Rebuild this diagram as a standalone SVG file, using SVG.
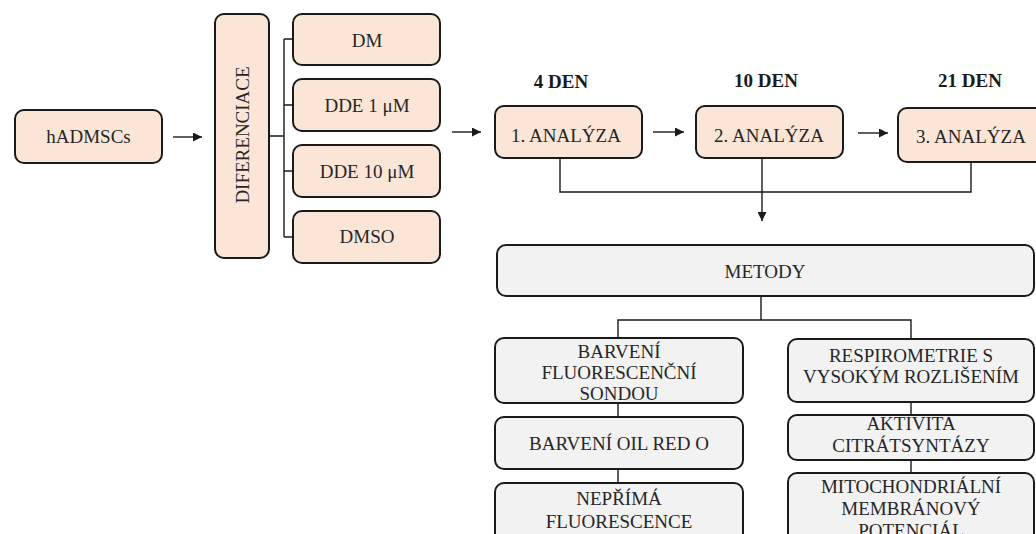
<svg xmlns="http://www.w3.org/2000/svg" width="1036" height="534" viewBox="0 0 1036 534">
<defs>
<style>
.peach{fill:#fbe5d6;stroke:#1a1a1a;stroke-width:2}
.gray{fill:#f2f2f2;stroke:#1a1a1a;stroke-width:2}
text{font-family:'Liberation Serif','Times New Roman',serif}
.t{font-size:19px;fill:#262626;text-anchor:middle}
.b{font-size:19px;font-weight:bold;fill:#1a1a1a;text-anchor:middle}
.ln{fill:none;stroke:#1a1a1a;stroke-width:1.4}
</style>
<marker id="ah" viewBox="0 0 10 10" refX="10" refY="5" markerWidth="9" markerHeight="9" markerUnits="userSpaceOnUse" orient="auto">
<path d="M0,0 L10,5 L0,10 Z" fill="#1a1a1a"/>
</marker>
</defs>
<rect width="1036" height="534" fill="#ffffff"/>

<g id="connectors">
<line class="ln" x1="173" y1="137" x2="202" y2="137" marker-end="url(#ah)"/>
<path class="ln" d="M269,136 H284 M284,39 V237 M284,39 H293 M284,105 H293 M284,171 H293 M284,237 H293"/>
<line class="ln" x1="452" y1="132" x2="481" y2="132" marker-end="url(#ah)"/>
<line class="ln" x1="653" y1="132" x2="684" y2="132" marker-end="url(#ah)"/>
<line class="ln" x1="858" y1="133" x2="888" y2="133" marker-end="url(#ah)"/>
<path class="ln" d="M560,158 V192 H971 V162"/>
<line class="ln" x1="762" y1="158" x2="762" y2="221" marker-end="url(#ah)"/>
<path class="ln" d="M761,296 V320 M618,338 V320 H911 V339"/>
<path class="ln" d="M618,403 V417 M618,469 V483 M911,402 V415 M911,460 V473"/>
</g>

<g id="hadmscs"><rect class="peach" x="15" y="110" width="147" height="53" rx="9"/><text class="t" x="88.5" y="143">hADMSCs</text></g>
<g id="diferenciace"><rect class="peach" x="215" y="14" width="54" height="244" rx="9"/><text class="t" transform="translate(249,135) rotate(-90)" x="0" y="0">DIFERENCIACE</text></g>
<g id="dm"><rect class="peach" x="293" y="14" width="147" height="51" rx="9"/><text class="t" x="367" y="47">DM</text></g>
<g id="dde1"><rect class="peach" x="293" y="79" width="147" height="52" rx="9"/><text class="t" x="367" y="112">DDE 1 μM</text></g>
<g id="dde10"><rect class="peach" x="293" y="145" width="147" height="52" rx="9"/><text class="t" x="367" y="178">DDE 10 μM</text></g>
<g id="dmso"><rect class="peach" x="293" y="211" width="147" height="52" rx="9"/><text class="t" x="367" y="243">DMSO</text></g>

<g id="den4"><text class="b" x="561" y="88">4 DEN</text></g>
<g id="den10"><text class="b" x="766" y="87">10 DEN</text></g>
<g id="den21"><text class="b" x="970" y="87">21 DEN</text></g>

<g id="analyza1"><rect class="peach" x="495" y="106" width="147" height="52" rx="9"/><text class="t" x="566" y="142">1. ANALÝZA</text></g>
<g id="analyza2"><rect class="peach" x="696" y="106" width="147" height="52" rx="9"/><text class="t" x="769" y="142">2. ANALÝZA</text></g>
<g id="analyza3"><rect class="peach" x="898" y="108" width="150" height="54" rx="9"/><text class="t" x="971" y="143">3. ANALÝZA</text></g>

<g id="metody"><rect class="gray" x="497" y="245" width="537" height="51" rx="9"/><text class="t" x="765" y="278">METODY</text></g>

<g id="barveni-sondou"><rect class="gray" x="495" y="338" width="248" height="65" rx="9"/><text class="t" x="619" y="358">BARVENÍ</text><text class="t" x="619" y="379">FLUORESCENČNÍ</text><text class="t" x="619" y="400">SONDOU</text></g>
<g id="oil-red"><rect class="gray" x="495" y="417" width="248" height="52" rx="9"/><text class="t" x="619" y="450">BARVENÍ OIL RED O</text></g>
<g id="neprima"><rect class="gray" x="495" y="483" width="248" height="70" rx="9"/><text class="t" x="619" y="505">NEPŘÍMÁ</text><text class="t" x="619" y="528">FLUORESCENCE</text></g>

<g id="respirometrie"><rect class="gray" x="788" y="339" width="246" height="63" rx="9"/><text class="t" x="911" y="362">RESPIROMETRIE S</text><text class="t" x="911" y="383">VYSOKÝM ROZLIŠENÍM</text></g>
<g id="citratsyntaza"><rect class="gray" x="788" y="415" width="246" height="45" rx="9"/><text class="t" x="911" y="430">AKTIVITA</text><text class="t" x="911" y="452">CITRÁTSYNTÁZY</text></g>
<g id="potencial"><rect class="gray" x="788" y="473" width="246" height="80" rx="9"/><text class="t" x="911" y="493">MITOCHONDRIÁLNÍ</text><text class="t" x="911" y="515">MEMBRÁNOVÝ</text><text class="t" x="911" y="537">POTENCIÁL</text></g>
</svg>
